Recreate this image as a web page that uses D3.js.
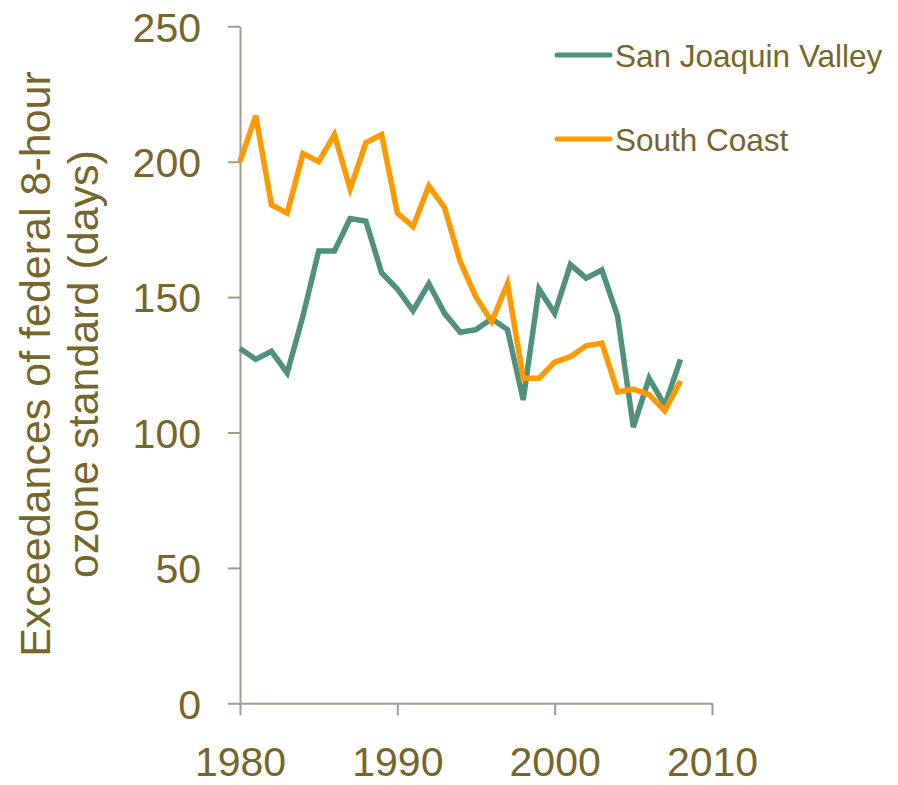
<!DOCTYPE html>
<html>
<head>
<meta charset="utf-8">
<script src="https://cdn.jsdelivr.net/npm/d3@7"></script>
<style>
  body { margin: 0; background: #fff; }
  svg { display: block; font-family: "Liberation Sans", Arial, sans-serif; }
  .axis path, .axis line { stroke: #a39b8b; stroke-width: 2; }
  .axis text { fill: #76662a; font-size: 41px; }
</style>
</head>
<body>
<svg></svg>
<script>
const years = d3.range(1980, 2009);
const sanJoaquin = [131, 127, 130, 122, 143, 167, 167, 179, 178, 159,
  153, 145, 155, 144, 137, 138, 142, 138, 112, 153,
  144, 162, 157, 160, 143, 102, 120, 110, 127];
const southCoast = [200, 217, 184, 181, 203, 200, 210, 190, 207, 210,
  181, 176, 191, 183, 163, 150, 141, 155, 120, 120,
  126, 128, 132, 133, 115, 116, 114, 108, 119];
const seriesNames = ['San Joaquin Valley', 'South Coast'];
const seriesColors = ['#4f917d', '#ff9900'];
const xTicks = [1980, 1990, 2000, 2010];
const yTicks = [0, 50, 100, 150, 200, 250];
const yTitle = ['Exceedances of federal 8-hour', 'ozone standard (days)'];

const width = 898;
const height = 785;
const textColor = '#76662a';

const svg = d3.select('svg')
  .attr('width', width)
  .attr('height', height);

const x = d3.scaleLinear().domain([1980, 2010]).range([240, 712]);
const y = d3.scaleLinear().domain([0, 250]).range([703.3, 26.3]);

// axes
svg.append('g')
  .attr('class', 'axis')
  .attr('transform', 'translate(240,0)')
  .call(d3.axisLeft(y).tickValues(yTicks).tickSize(12).tickSizeOuter(0).tickPadding(27))
  .call(g => g.selectAll('text').attr('dy', '0.36em'));

svg.append('g')
  .attr('class', 'axis')
  .attr('transform', 'translate(0,703.3)')
  .call(d3.axisBottom(x).tickValues(xTicks).tickFormat(d3.format('d')).tickSize(12).tickSizeOuter(0).tickPadding(32));

svg.selectAll('.axis .domain').attr('stroke', '#a39b8b');
svg.selectAll('.axis text').attr('font-family', null);

// y title
const title = svg.append('text')
  .attr('transform', 'translate(50,364) rotate(-90)')
  .attr('text-anchor', 'middle')
  .attr('fill', textColor)
  .attr('font-size', 43);
title.selectAll('tspan')
  .data(yTitle)
  .enter()
  .append('tspan')
  .attr('x', 0)
  .attr('dy', (d, i) => i === 0 ? 0 : 48)
  .text(d => d);

// lines
const line = d3.line()
  .x((d, i) => x(years[i]))
  .y(d => y(d));

[sanJoaquin, southCoast].forEach((values, i) => {
  svg.append('path')
    .datum(values)
    .attr('fill', 'none')
    .attr('stroke', seriesColors[i])
    .attr('stroke-width', 5.5)
    .attr('stroke-linejoin', 'miter')
    .attr('d', line);
});

// legend
const legend = svg.append('g')
  .selectAll('g')
  .data(seriesNames)
  .enter()
  .append('g')
  .attr('transform', (d, i) => `translate(557,${55 + i * 84})`);

legend.append('line')
  .attr('x1', 0)
  .attr('x2', 53)
  .attr('stroke', (d, i) => seriesColors[i])
  .attr('stroke-width', 5)
  .attr('stroke-linecap', 'round');

legend.append('text')
  .attr('x', 58)
  .attr('y', 11.5)
  .attr('fill', textColor)
  .attr('font-size', 31.5)
  .text(d => d);
</script>
</body>
</html>
